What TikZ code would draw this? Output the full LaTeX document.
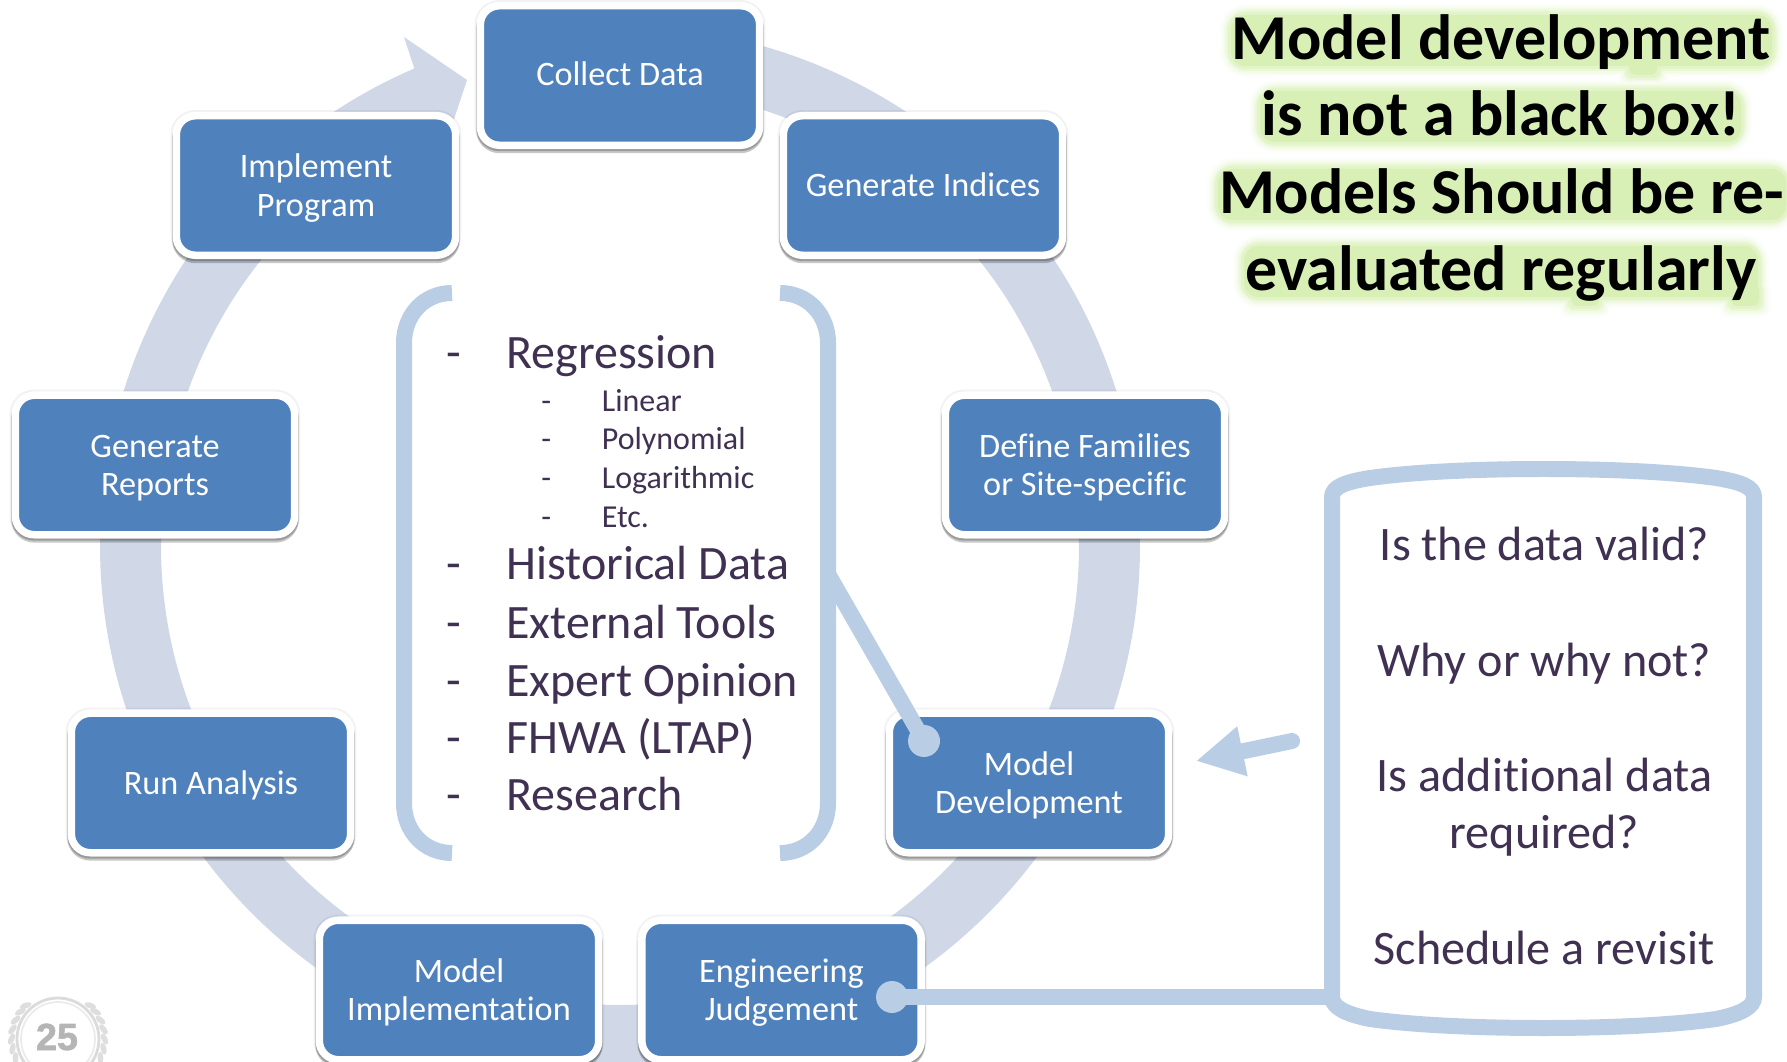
\documentclass[tikz,border=0pt]{standalone}
\usepackage{fontspec}
\setmainfont{Carlito}[Ligatures=NoCommon]
\newfontfamily\badgefont[FakeBold=1.5]{Liberation Sans}
\usetikzlibrary{shadows,arrows.meta,shapes.geometric}
\definecolor{boxblue}{HTML}{4F81BD}
\definecolor{ringc}{HTML}{D0D8E8}
\definecolor{linkc}{HTML}{B9CDE5}
\definecolor{inkc}{HTML}{403152}
\definecolor{glowbase}{HTML}{D8F0B6}
\newcommand{\twotop}{\rule{0pt}{16.4pt}}
\tikzset{
  px/.style={x=0.5691pt,y=-0.5691pt},
  stepbox/.style={draw=white,line width=4.27pt,fill=boxblue,rounded corners=10.8pt,
    minimum width=159pt,minimum height=79.4pt,inner sep=0pt,text=white,align=center,
    font=\fontsize{19.5}{21.8}\selectfont,
    drop shadow={shadow xshift=0pt,shadow yshift=0pt,opacity=.05,fill=black,draw=black,line width=6.5pt},
    drop shadow={shadow xshift=0pt,shadow yshift=-2.2pt,opacity=.22,fill=black,draw=black,line width=4.6pt},
    drop shadow={shadow xshift=0pt,shadow yshift=-1.2pt,opacity=.18,fill=black,draw=black,line width=4.4pt}},
  biglist/.style={anchor=base west,inner sep=0pt,text=inkc,font=\fontsize{27.3}{30}\selectfont},
  sublist/.style={anchor=base west,inner sep=0pt,text=inkc,font=\fontsize{18.2}{21}\selectfont},
  qtext/.style={anchor=base,inner sep=0pt,text=inkc,font=\fontsize{27.4}{30}\selectfont},
  headline/.style={anchor=base,inner sep=0pt,text=black,font=\fontsize{36.4}{40}\selectfont\bfseries},
  linkline/.style={draw=linkc,line width=9.1pt},
  linkdot/.style={circle,fill=linkc,minimum size=18.2pt,inner sep=0pt},
  leaf/.style={ellipse,fill=black!13,minimum width=7pt,minimum height=3.2pt,inner sep=0pt}
}
\begin{document}
\begin{tikzpicture}[px]
\clip (0,0) rectangle (1787,1062);
\fill[white] (0,0) rectangle (1787,1062);
% cycle arrow
\fill[ringc] plot[domain=85:-246.7,samples=340] ({620+520*cos(\x)},{546-520*sin(\x)})
  -- (404,37) -- (467,80) -- (452,125) -- (433,127)
  -- plot[domain=-246:85,samples=340] ({620+459*cos(\x)},{546-459*sin(\x)}) -- cycle;
% headline glow
\foreach \c/\g/\r in {8/13/15,18/11/14,32/9/13,52/7/12,75/5/10,100/2/8}{
  \foreach \xa/\xb/\yb in {1233/1770/60,1262/1739/136,1220/1784/214,1246/1756/291}{
    \fill[glowbase!\c!white,rounded corners=\r pt] (\xa-\g,\yb-43-\g) rectangle (\xb+\g,\yb+4+\g);
  }
  \foreach \xa/\xb/\yb in {1631/1655/60,1573/1597/291,1733/1757/291}{
    \fill[glowbase!\c!white,rounded corners=4pt] (\xa-\g,\yb-8) rectangle (\xb+\g,\yb+13+\g);
  }
}
% steps
\node[stepbox] (collect) at (620,75.5) {Collect Data\rule[-2.6pt]{0pt}{2.6pt}};
\node[stepbox] (indices) at (923,185.5) {Generate Indices\rule[-1.4pt]{0pt}{1.4pt}};
\node[stepbox] (families) at (1085,465) {\twotop Define Families\\or Site-specific};
\node[stepbox] (model) at (1029,783) {\twotop Model\\Development};
\node[stepbox] (judge) at (781.5,990) {\twotop Engineering\\Judgement};
\node[stepbox] (impl) at (459,990) {\twotop Model\\Implementation};
\node[stepbox] (run) at (211,783) {\twotop Run Analysis};
\node[stepbox] (reports) at (155,465) {\twotop Generate\\Reports};
\node[stepbox] (program) at (316,185.5) {\twotop Implement\\Program};
% brackets
\draw[draw=linkc,line width=9.1pt] (452,293) .. controls (424,293) and (404,315) .. (404,343)
  -- (404,803) .. controls (404,831) and (424,853) .. (452,853);
\draw[draw=linkc,line width=9.1pt] (780,293) .. controls (808,293) and (828,315) .. (828,343)
  -- (828,803) .. controls (828,831) and (808,853) .. (780,853);
\coordinate (brk) at (828,574);
\node[linkdot] (mdot) at (924,741) {};
\draw[linkline] (brk) -- (mdot.center);
% container
\draw[draw=linkc,line width=9.1pt,line join=round] (1332,497)
  .. controls (1332,487) and (1345,482) .. (1370,478)
  .. controls (1420,471) and (1490,469) .. (1543,469)
  .. controls (1596,469) and (1666,471) .. (1716,478)
  .. controls (1741,482) and (1754,487) .. (1754,497)
  -- (1754,997)
  .. controls (1754,1007) and (1741,1014) .. (1716,1019)
  .. controls (1666,1026) and (1596,1028) .. (1543,1028)
  .. controls (1490,1028) and (1420,1026) .. (1370,1019)
  .. controls (1345,1014) and (1332,1007) .. (1332,997) -- cycle;
\coordinate (cleft) at (1332,997);
\node[linkdot] (jdot) at (892,997) {};
\draw[linkline] (jdot.center) -- (cleft);
% arrow
\coordinate (atail) at (1292,741);
\coordinate (atip) at (1196,761);
\draw[draw=linkc,line width=9.1pt,line cap=round,-{Triangle[length=27pt,width=27pt]}] (atail) -- (atip);
% list
\foreach \n/\y/\t in {r/368.2/Regression,h/579.2/Historical Data,e/638/External Tools,x/696/Expert Opinion,f/753/FHWA (LTAP),s/810.2/Research}{
  \node[biglist] (big\n) at (506,\y) {\t};
  \node[biglist] (dash\n) at (446,\y) {-};
}
\foreach \n/\y/\t in {l/412/Linear,p/449.5/Polynomial,g/488.5/Logarithmic,c/527/Etc.}{
  \node[sublist] (sub\n) at (601.5,\y) {\t};
  \node[sublist] (sdash\n) at (541,\y) {-};
}
% questions
\node[qtext] (q1) at (1544.5,560.5) {Is the data valid?};
\node[qtext] (q2) at (1544.5,676) {Why or why not?};
\node[qtext] (q3) at (1544.5,791.5) {Is additional data};
\node[qtext] (q4) at (1544.5,848.5) {required?};
\node[qtext] (q5) at (1544,964) {Schedule a revisit};
% headline
\node[headline] (h1) at (1501,60) {Model development};
\node[headline] (h2) at (1501,136) {is not a black box!};
\node[headline] (h3) at (1501.5,214) {Models Should be re-};
\node[headline] (h4) at (1501,291) {evaluated regularly};
% badge
\draw[black!14,line width=1.6pt] (58,1039) circle (41);
\draw[black!8,line width=1pt] (58,1039) circle (37);
\foreach \a in {-24,-12,0,12,24,36,46}{
  \node[leaf,rotate={\a+115}] at ({58+46.5*cos(\a)},{1039-46.5*sin(\a)}) {};
  \node[leaf,rotate={-\a-115}] at ({58-46.5*cos(\a)},{1039-46.5*sin(\a)}) {};
}
\node[inner sep=0pt,text=black!29] (badge) at (57,1037) {\badgefont\bfseries\fontsize{21.5}{21.5}\selectfont 25};
\end{tikzpicture}
\end{document}
